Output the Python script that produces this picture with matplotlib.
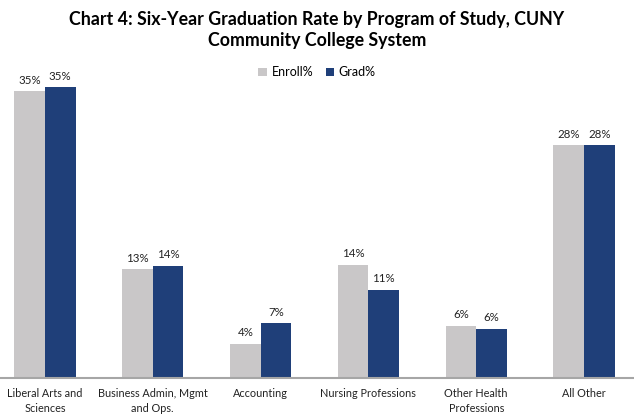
import matplotlib
matplotlib.use("Agg")
import matplotlib.pyplot as plt
import numpy as np

categories = ["Liberal Arts and\nSciences", "Business Admin, Mgmt\nand Ops.", "Accounting",
              "Nursing Professions", "Other Health\nProfessions", "All Other"]
enroll = [34.5, 13.1, 4.1, 13.6, 6.3, 28.0]
grad = [35.0, 13.5, 6.6, 10.6, 5.9, 28.0]
enroll_labels = ["35%", "13%", "4%", "14%", "6%", "28%"]
grad_labels = ["35%", "14%", "7%", "11%", "6%", "28%"]

plt.rcParams['font.family'] = ['Lato', 'DejaVu Sans']

fig = plt.figure(figsize=(6.34, 4.16), dpi=100)
ax = fig.add_axes([0, 38/416, 1, 340/416])

x = np.arange(len(categories))
w = 0.283
b1 = ax.bar(x - w/2, enroll, w, color="#C9C7C8", label="Enroll%")
b2 = ax.bar(x + w/2, grad, w, color="#1F3F79", label="Grad%")

# value labels above each bar
for bars, labs in [(b1, enroll_labels), (b2, grad_labels)]:
    for bar, lab in zip(bars, labs):
        ax.annotate(lab, (bar.get_x() + bar.get_width()/2, bar.get_height()),
                    xytext=(0, 4), textcoords="offset points",
                    ha="center", va="bottom", fontsize=8.3, color="#222222")

ax.set_xlim(-45/107.8, (634-45)/107.8)
ax.set_ylim(0, 340/8.31)
ax.set_xticks(x)
ax.set_xticklabels(categories, fontsize=7.8, color="#222222", linespacing=1.45)
ax.tick_params(axis="x", length=0, pad=7)
ax.set_yticks([])
for s in ["top", "right", "left"]:
    ax.spines[s].set_visible(False)
ax.spines["bottom"].set_color("#A6A6A6")
ax.spines["bottom"].set_linewidth(1.5)

fig.text(0.5, 1 - 30/416, "Chart 4: Six-Year Graduation Rate by Program of Study, CUNY\nCommunity College System",
         ha="center", va="center", fontsize=12.8, fontweight="bold", linespacing=1.25)

leg = ax.legend(loc="upper center", ncol=2, frameon=False,
                fontsize=9, handlelength=0.7, handleheight=0.7, handletextpad=0.35, columnspacing=1.0)
leg.set_bbox_to_anchor((0.5, 1 - 55/416), transform=fig.transFigure)

fig.savefig("out.png", dpi=100)
